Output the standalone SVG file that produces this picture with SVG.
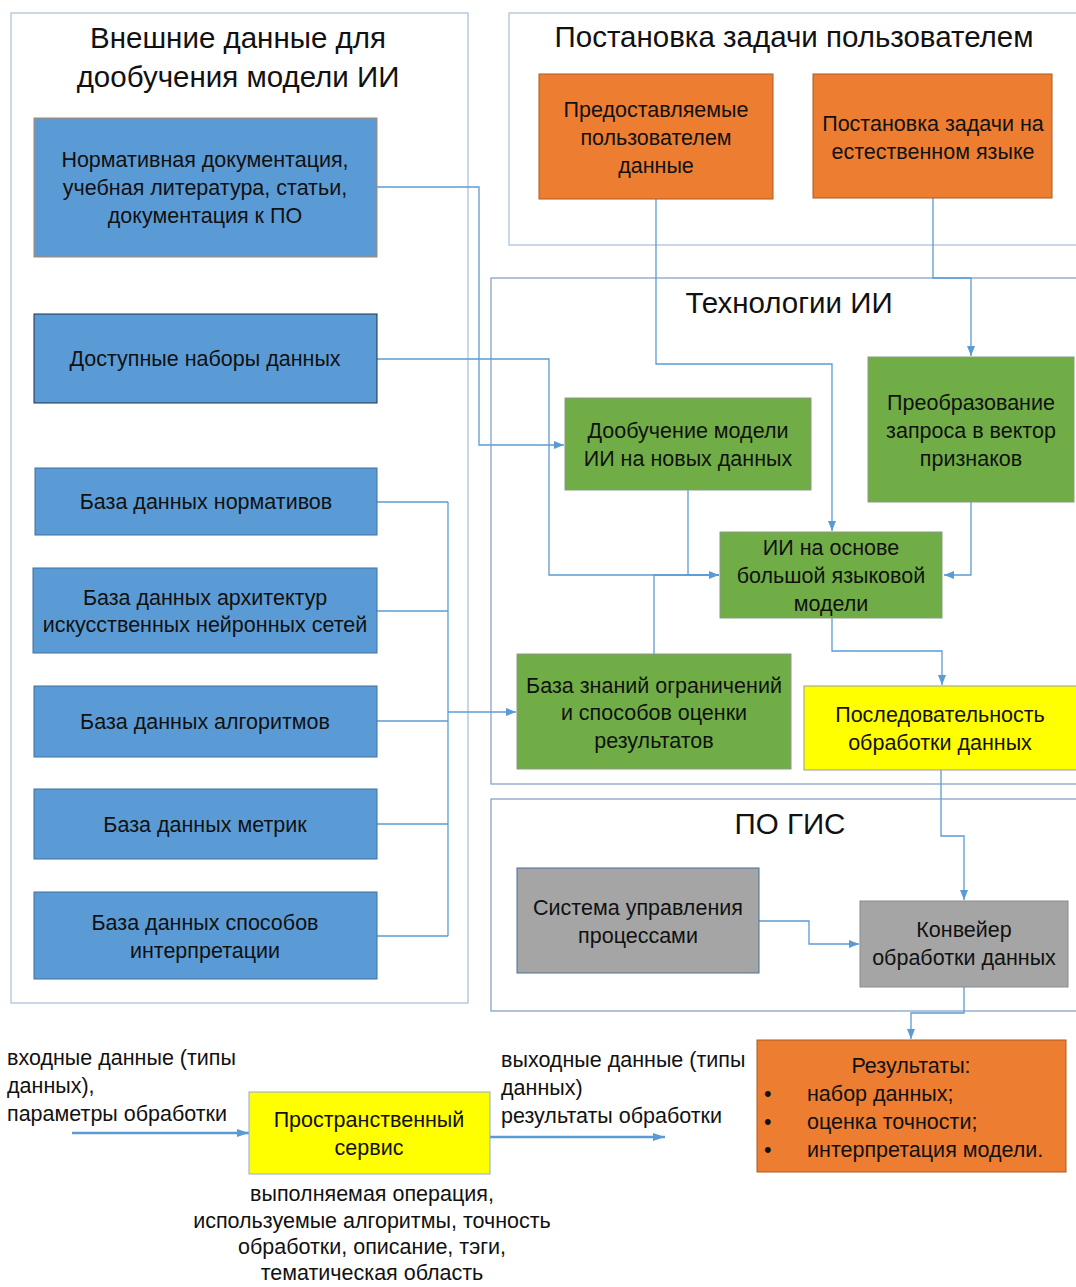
<svg xmlns="http://www.w3.org/2000/svg" width="1076" height="1287" viewBox="0 0 1076 1287">
  <defs>
    <marker id="arr" markerUnits="userSpaceOnUse" markerWidth="10" markerHeight="10" viewBox="0 0 10 10" refX="10" refY="5" orient="auto">
      <path d="M0,1 L10,5 L0,9 Z" fill="#5b9bd5"/>
    </marker>
    <marker id="arrBig" markerUnits="userSpaceOnUse" markerWidth="12" markerHeight="10" viewBox="0 0 12 10" refX="12" refY="5" orient="auto">
      <path d="M0,1 L12,5 L0,9 Z" fill="#5b9bd5"/>
    </marker>
  </defs>
  <style>
    text { font-family: "Liberation Sans", Arial, sans-serif; fill: #111; }
    .t { font-size: 21.5px; text-anchor: middle; }
    .h { font-size: 29.5px; text-anchor: middle; }
    .l { font-size: 21.5px; }
    .panel { fill: none; stroke: #a7bdd7; stroke-width: 1.2; }
    .panel2 { fill: none; stroke: #7c9cc4; stroke-width: 1.2; }
    .blue { fill: #5b9bd5; stroke: #41719c; stroke-width: 1; }
    .orange { fill: #ed7d31; stroke: #ae5a21; stroke-width: 1; }
    .green { fill: #70ad47; stroke: #8b9a84; stroke-width: 1; }
    .yellow { fill: #ffff00; stroke: #9a9a9a; stroke-width: 1; }
    .gray { fill: #a5a5a5; stroke: #8c8c8c; stroke-width: 1; }
    .c { fill: none; stroke: #5b9bd5; stroke-width: 1.3; }
    .cb { fill: none; stroke: #5b9bd5; stroke-width: 2.4; }
  </style>

  <rect width="1076" height="1287" fill="#ffffff"/>

  <!-- panels -->
  <g id="panel-external">
    <rect class="panel" x="11" y="13" width="457" height="990"/>
    <text class="h" x="238" y="48">Внешние данные для</text>
    <text class="h" x="238" y="87">дообучения модели ИИ</text>
  </g>
  <g id="panel-user">
    <rect class="panel" x="509" y="13" width="580" height="232"/>
    <text class="h" x="794" y="47">Постановка задачи пользователем</text>
  </g>
  <g id="panel-ai">
    <rect class="panel2" x="491" y="278" width="598" height="506"/>
    <text class="h" x="789" y="313">Технологии ИИ</text>
  </g>
  <g id="panel-gis">
    <rect class="panel2" x="491" y="799" width="598" height="212"/>
    <text class="h" x="790" y="834">ПО ГИС</text>
  </g>

  <!-- connectors -->
  <g id="connectors">
    <path class="c" d="M377,187 H479 V445 H564" marker-end="url(#arr)"/>
    <path class="c" d="M377,359 H549 V575 H719" marker-end="url(#arr)"/>
    <path class="c" d="M688,490 V575 H719"/>
    <path class="c" d="M654,654 V575 H719"/>
    <path class="c" d="M656,199 V364 H832 V531" marker-end="url(#arr)"/>
    <path class="c" d="M933,198 V278 H971 V356" marker-end="url(#arr)"/>
    <path class="c" d="M971,502 V575 H944" marker-end="url(#arr)"/>
    <path class="c" d="M832,618 V651 H942 V685" marker-end="url(#arr)"/>
    <path class="c" d="M377,502 H448 M377,611 H448 M377,721 H448 M377,824 H448 M377,936 H448 M448,502 V936"/>
    <path class="c" d="M448,712 H516" marker-end="url(#arr)"/>
    <path class="c" d="M941,770 V836 H964 V900" marker-end="url(#arr)"/>
    <path class="c" d="M759,921 H809 V944 H859" marker-end="url(#arr)"/>
    <path class="c" d="M964,987 V1013 H911 V1039" marker-end="url(#arr)"/>
    <path class="cb" d="M72,1133 H249" marker-end="url(#arrBig)"/>
    <path class="cb" d="M490,1137 H665" marker-end="url(#arrBig)"/>
  </g>

  <!-- external data nodes -->
  <g id="node-norm-docs">
    <rect class="blue" x="34" y="118" width="343" height="139" style="stroke:#b5835a"/>
    <text class="t" x="205" y="167">Нормативная документация,</text>
    <text class="t" x="205" y="195">учебная литература, статьи,</text>
    <text class="t" x="205" y="223">документация к ПО</text>
  </g>
  <g id="node-datasets">
    <rect class="blue" x="34" y="314" width="343" height="89" style="stroke:#1f2f45"/>
    <text class="t" x="205" y="366">Доступные наборы данных</text>
  </g>
  <g id="node-db-norms">
    <rect class="blue" x="35" y="468" width="342" height="67"/>
    <text class="t" x="206" y="509">База данных нормативов</text>
  </g>
  <g id="node-db-nn">
    <rect class="blue" x="33" y="568" width="344" height="85"/>
    <text class="t" x="205" y="605">База данных архитектур</text>
    <text class="t" x="205" y="632">искусственных нейронных сетей</text>
  </g>
  <g id="node-db-algo">
    <rect class="blue" x="34" y="686" width="343" height="71"/>
    <text class="t" x="205" y="729">База данных алгоритмов</text>
  </g>
  <g id="node-db-metrics">
    <rect class="blue" x="34" y="789" width="343" height="70"/>
    <text class="t" x="205" y="832">База данных метрик</text>
  </g>
  <g id="node-db-interp">
    <rect class="blue" x="34" y="892" width="343" height="87"/>
    <text class="t" x="205" y="930">База данных способов</text>
    <text class="t" x="205" y="958">интерпретации</text>
  </g>

  <!-- user task nodes -->
  <g id="node-user-data">
    <rect class="orange" x="539" y="74" width="234" height="125"/>
    <text class="t" x="656" y="117">Предоставляемые</text>
    <text class="t" x="656" y="145">пользователем</text>
    <text class="t" x="656" y="173">данные</text>
  </g>
  <g id="node-nl-task">
    <rect class="orange" x="813" y="74" width="239" height="124"/>
    <text class="t" x="933" y="131">Постановка задачи на</text>
    <text class="t" x="933" y="159">естественном языке</text>
  </g>

  <!-- AI nodes -->
  <g id="node-finetune">
    <rect class="green" x="565" y="398" width="246" height="92"/>
    <text class="t" x="688" y="438">Дообучение модели</text>
    <text class="t" x="688" y="466">ИИ на новых данных</text>
  </g>
  <g id="node-vectorize">
    <rect class="green" x="868" y="357" width="206" height="145"/>
    <text class="t" x="971" y="410">Преобразование</text>
    <text class="t" x="971" y="438">запроса в вектор</text>
    <text class="t" x="971" y="466">признаков</text>
  </g>
  <g id="node-llm">
    <rect class="green" x="720" y="532" width="222" height="86"/>
    <text class="t" x="831" y="555">ИИ на основе</text>
    <text class="t" x="831" y="583">большой языковой</text>
    <text class="t" x="831" y="611">модели</text>
  </g>
  <g id="node-knowledge">
    <rect class="green" x="517" y="654" width="274" height="115"/>
    <text class="t" x="654" y="693">База знаний ограничений</text>
    <text class="t" x="654" y="720">и способов оценки</text>
    <text class="t" x="654" y="748">результатов</text>
  </g>
  <g id="node-sequence">
    <rect class="yellow" x="804" y="686" width="280" height="84"/>
    <text class="t" x="940" y="722">Последовательность</text>
    <text class="t" x="940" y="750">обработки данных</text>
  </g>

  <!-- GIS nodes -->
  <g id="node-process-mgmt">
    <rect class="gray" x="517" y="868" width="242" height="105" style="stroke:#4a6e96"/>
    <text class="t" x="638" y="915">Система управления</text>
    <text class="t" x="638" y="943">процессами</text>
  </g>
  <g id="node-pipeline">
    <rect class="gray" x="860" y="901" width="208" height="86"/>
    <text class="t" x="964" y="937">Конвейер</text>
    <text class="t" x="964" y="965">обработки данных</text>
  </g>

  <!-- results -->
  <g id="node-results">
    <rect class="orange" x="757" y="1040" width="309" height="132"/>
    <text class="t" x="911" y="1073">Результаты:</text>
    <text class="l" x="764" y="1101">•</text>
    <text class="l" x="807" y="1101">набор данных;</text>
    <text class="l" x="764" y="1129">•</text>
    <text class="l" x="807" y="1129">оценка точности;</text>
    <text class="l" x="764" y="1157">•</text>
    <text class="l" x="807" y="1157">интерпретация модели.</text>
  </g>

  <!-- spatial service -->
  <g id="node-spatial-service">
    <rect x="249" y="1092" width="241" height="82" fill="#ffff00" stroke="#8faadc" stroke-width="1"/>
    <text class="t" x="369" y="1127">Пространственный</text>
    <text class="t" x="369" y="1155">сервис</text>
  </g>
  <g id="label-input">
    <text class="l" x="7" y="1065">входные данные (типы</text>
    <text class="l" x="7" y="1093">данных),</text>
    <text class="l" x="7" y="1121">параметры обработки</text>
  </g>
  <g id="label-output">
    <text class="l" x="501" y="1067">выходные данные (типы</text>
    <text class="l" x="501" y="1095">данных)</text>
    <text class="l" x="501" y="1123">результаты обработки</text>
  </g>
  <g id="label-metadata">
    <text class="t" x="372" y="1201">выполняемая операция,</text>
    <text class="t" x="372" y="1228">используемые алгоритмы, точность</text>
    <text class="t" x="372" y="1254">обработки, описание, тэги,</text>
    <text class="t" x="372" y="1280">тематическая область</text>
  </g>
</svg>
